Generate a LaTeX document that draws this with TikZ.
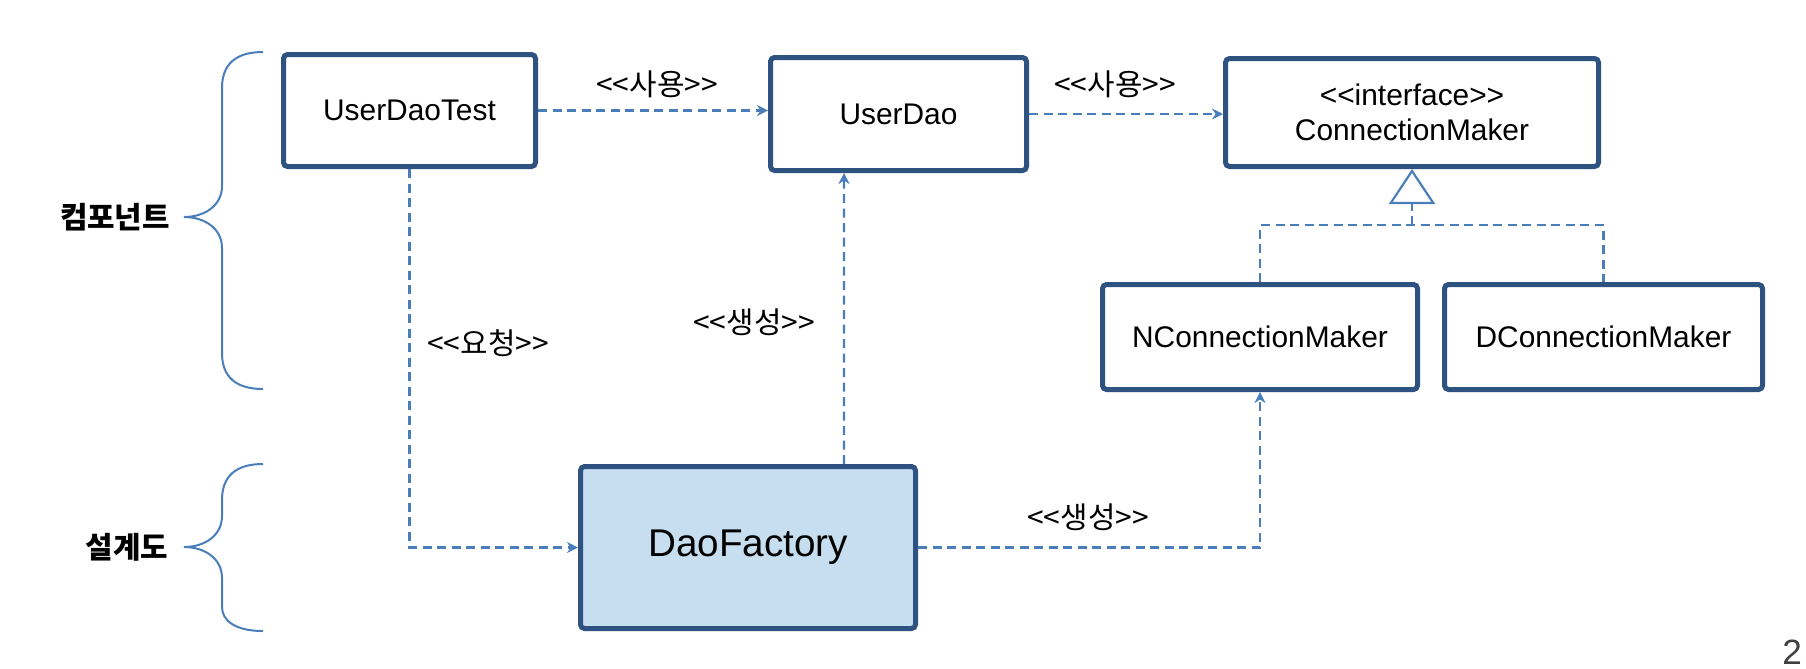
\documentclass[tikz,border=0pt]{standalone}
\usepackage{fontspec}
\setmainfont{Liberation Sans}[Ligatures=TeXOff]
\newfontfamily\krfont{Noto Sans CJK KR}[Ligatures=TeXOff]
\usetikzlibrary{arrows.meta}
\definecolor{boxline}{RGB}{47,83,128}
\definecolor{depline}{RGB}{74,126,187}
\definecolor{factoryfill}{RGB}{198,222,239}
\begin{document}
\begin{tikzpicture}[x=0.1mm, y=-0.1mm,
        cls/.style={rectangle, draw=boxline, line width=0.5mm, rounded corners=0.4mm, fill=white, font=\fontsize{8.5}{10}\selectfont, align=center, inner sep=0pt},
        dep/.style={draw=depline, line width=0.22mm, dash pattern=on 0.9mm off 0.55mm, -{Stealth[length=1.1mm, width=1.1mm]}},
        real/.style={draw=depline, line width=0.22mm, dash pattern=on 0.9mm off 0.55mm},
        lbl/.style={font=\krfont\fontsize{8.5}{10}\selectfont},
        side/.style={font=\krfont\bfseries\fontsize{8.5}{10}\selectfont},
        brace/.style={draw=depline, line width=0.2mm}
    ]
        \useasboundingbox (0,0) rectangle (1806,668);

        \node[cls, minimum width=25.2mm, minimum height=11.2mm] (test) at (409.5, 110.5) {UserDaoTest};
        \node[cls, minimum width=25.6mm, minimum height=11.3mm] (dao) at (898.5, 114) {UserDao};
        \node[cls, minimum width=37.3mm, minimum height=10.8mm] (cm) at (1412, 112.5) {<<interface>>\\ConnectionMaker};
        \node[cls, minimum width=31.5mm, minimum height=10.5mm] (ncm) at (1260, 337) {NConnectionMaker};
        \node[cls, minimum width=31.8mm, minimum height=10.5mm] (dcm) at (1603.5, 337) {DConnectionMaker};
        \node[cls, fill=factoryfill, minimum width=33.5mm, minimum height=16.2mm, font=\fontsize{11}{13}\selectfont] (factory) at (748, 547.5) {DaoFactory};

        % Hierarchy labels
        \node[side] (comp) at (115, 217) {컴포넌트};
        \node[side] (plan) at (127, 547) {설계도};
        \draw[brace] (263,52) .. controls (236,52) and (222,64) .. (222,88) -- (222,186)
            .. controls (222,206) and (204,217) .. (184,217)
            .. controls (204,217) and (222,228) .. (222,248) -- (222,353)
            .. controls (222,377) and (236,389) .. (263,389);
        \draw[brace] (263,464) .. controls (236,464) and (222,476) .. (222,500) -- (222,516)
            .. controls (222,536) and (204,547) .. (184,547)
            .. controls (204,547) and (222,558) .. (222,578) -- (222,607)
            .. controls (222,621) and (236,631) .. (263,631);

        % Dependencies
        \draw[dep] (test.east) -- (test.east -| dao.west);
        \draw[dep] (dao.east) -- (dao.east -| cm.west);
        \draw[dep] (test.south) |- (factory.west);
        \draw[dep] ([xshift=9.6mm]factory.north) -- ([xshift=-5.45mm]dao.south);
        \draw[dep] (factory.east) -| (ncm.south);

        % Realisation
        \coordinate (junc) at (1412, 225);
        \draw[real] (ncm.north) |- (junc) -| (dcm.north);
        \draw[real, -{Triangle[open, length=3.5mm, width=4.6mm, line width=0.22mm]}] (junc) -- (cm.south);

        \node[lbl] (use1) at (657, 84) {<<사용>>};
        \node[lbl] (use2) at (1115, 84) {<<사용>>};
        \node[lbl] (req) at (488, 343) {<<요청>>};
        \node[lbl] (make1) at (754, 322) {<<생성>>};
        \node[lbl] (make2) at (1088, 517) {<<생성>>};

        \node[font=\fontsize{10}{12}\selectfont, text=black!75, anchor=east, inner sep=1pt] (page) at (1806, 652) {2};
    \end{tikzpicture}
\end{document}
